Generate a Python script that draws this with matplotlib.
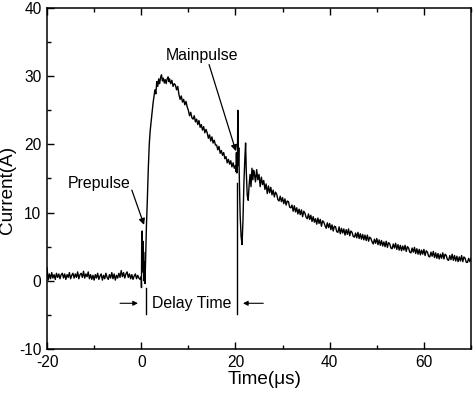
import numpy as np
import matplotlib
matplotlib.use("Agg")
import matplotlib.pyplot as plt
from matplotlib.ticker import MultipleLocator

plt.rcParams['font.family'] = ['Liberation Sans', 'DejaVu Sans']
plt.rcParams['axes.unicode_minus'] = False

# baseline before the prepulse, -20 .. -0.25 us, 0.25 us steps
base_I = [1.9, 0.1, 1.0, 0.3, 1.2, 0.4, 0.9, 0.2, 1.1, 0.5, 1.0, 0.3, 0.9, 1.1, 0.4, 1.0,
          0.2, 0.9, 0.5, 1.2, 0.3, 0.8, 1.1, 0.4, 1.0, 0.5, 1.3, 0.3, 0.9, 1.1, 0.5, 1.4,
          0.4, 1.0, 0.6, 1.3, 0.3, 0.9, 0.2, 0.8, 0.1, 0.9, 0.4, 1.1, 0.2, 0.7, 1.0, 0.1,
          0.8, 0.3, 1.1, 0.5, 0.2, 0.9, 0.4, 1.2, 0.3, 1.0, 0.1, 0.8, 0.4, 1.1, 0.5, 1.5,
          0.6, 1.2, 0.4, 1.0, 1.3, 0.5, 1.0, 0.3, 0.9, 0.2, 0.7, 1.0, 0.3, 0.8, 0.4, 0.2]
base_t = np.arange(len(base_I)) * 0.25 - 20.0

# prepulse and rise to the peak
pre_t = [0.0, 0.05, 0.1, 0.15, 0.2, 0.3, 0.35, 0.45, 0.5, 0.6, 0.7, 0.8, 0.9, 1.0,
         1.1, 1.3, 1.5, 1.7, 1.9, 2.2, 2.5, 2.9, 3.1, 3.3, 3.5, 3.7, 3.9, 4.1, 4.3,
         4.5, 4.7, 4.9, 5.1, 5.3, 5.5, 5.7, 5.9]
pre_I = [0.6, -1.0, 6.5, 2.5, 7.3, 1.8, 5.8, 1.2, 4.2, 0.0, 2.8, -0.4, 2.5, 5.0,
         8.0, 12.0, 16.5, 20.0, 22.0, 24.0, 26.0, 28.0, 27.4, 29.2, 28.5, 29.6, 28.9,
         29.8, 30.2, 29.3, 29.7, 29.0, 29.5, 28.9, 29.6, 29.9, 29.2]

# decay between the pulses, 6 .. 19.75 us
decay_I = [29.6, 28.9, 29.4, 28.5, 28.9, 28.7, 28.0, 28.5,
           27.3, 26.6, 27.1, 26.2, 26.6, 25.8, 26.3, 25.5,
           25.0, 24.2, 24.7, 23.9, 23.7, 24.2, 23.3, 23.7,
           22.9, 23.5, 22.5, 22.9, 22.1, 22.6, 21.7, 22.2,
           21.7, 20.9, 21.4, 20.5, 21.1, 20.2, 20.6, 19.9,
           19.9, 19.2, 19.7, 18.7, 19.1, 18.4, 18.8, 17.9,
           18.2, 17.3, 17.8, 17.1, 17.6, 16.7, 17.3, 16.5]
decay_t = np.arange(len(decay_I)) * 0.25 + 6.0

# mainpulse ringing
main_t = [20.0, 20.1, 20.2, 20.3, 20.4, 20.5, 20.6, 20.7, 20.85, 21.0, 21.2, 21.4, 21.6,
          21.8, 22.0, 22.15, 22.3, 22.5, 22.7, 22.9, 23.1, 23.3, 23.5, 23.7, 23.85]
main_I = [16.9, 16.0, 18.8, 15.8, 16.5, 25.0, 17.0, 19.5, 14.0, 9.5, 6.5, 5.3, 9.0,
          14.5, 18.0, 20.2, 16.0, 12.5, 11.8, 14.0, 15.6, 13.8, 16.5, 14.8, 16.2]

# long tail, 24 .. 70 us
tail_I = [15.8, 14.5, 16.3, 14.8, 15.6, 13.8, 15.2, 14.1,
          14.7, 13.4, 14.2, 12.8, 13.9, 12.9, 13.7, 12.6,
          13.3, 12.3, 13.0, 12.7, 11.9, 11.7, 12.4, 11.6,
          12.2, 11.3, 12.0, 11.1, 11.7, 11.6, 10.8, 10.7,
          11.1, 10.2, 11.0, 10.1, 10.7, 9.8, 10.5, 9.7,
          10.4, 9.4, 10.2, 9.9, 9.3, 9.1, 9.8, 9.0,
          9.6, 8.7, 9.4, 8.6, 9.1, 8.3, 9.2, 8.4,
          9.0, 8.0, 8.8, 8.6, 8.1, 7.7, 8.5, 7.8,
          8.4, 7.5, 8.2, 7.3, 8.0, 7.9, 7.2, 7.1,
          7.9, 6.9, 7.7, 7.0, 7.6, 6.7, 7.5, 6.8,
          7.6, 6.6, 7.3, 7.1, 6.5, 6.4, 7.0, 6.3,
          7.1, 6.2, 6.9, 6.1, 6.8, 6.0, 6.7, 5.9,
          6.7, 5.8, 6.4, 6.2, 5.7, 5.4, 6.1, 5.5,
          6.2, 5.3, 6.0, 5.2, 5.9, 5.1, 5.7, 5.0,
          5.8, 4.9, 5.6, 5.4, 4.8, 4.7, 5.4, 4.8,
          5.5, 4.6, 5.3, 4.5, 5.2, 4.4, 5.1, 4.5,
          5.2, 4.3, 5.0, 4.8, 4.2, 4.1, 4.8, 4.2,
          4.9, 4.0, 4.7, 3.9, 4.6, 3.8, 4.5, 3.9,
          4.6, 3.7, 4.4, 4.2, 3.6, 3.5, 4.2, 3.6,
          4.3, 3.4, 4.1, 3.3, 4.0, 3.2, 3.9, 3.3,
          4.1, 3.2, 3.9, 3.7, 3.1, 3.0, 3.7, 3.1,
          3.9, 3.0, 3.7, 2.9, 3.6, 2.8, 3.5, 2.9,
          3.7, 2.8, 3.5, 3.3, 2.7, 2.7, 3.3, 2.8, 3.3]
tail_t = np.arange(len(tail_I)) * 0.25 + 24.0

t = np.concatenate([base_t, pre_t, decay_t, main_t, tail_t])
current = np.concatenate([base_I, pre_I, decay_I, main_I, tail_I])

fig = plt.figure(figsize=(4.74, 3.95), dpi=100)
ax = fig.add_axes([0.0992, 0.1165, 0.8945, 0.8633])
ax.plot(t, current, color='black', lw=1.0)

# delay time markers
ax.plot([0.95, 0.95], [-1.0, -4.8], color='black', lw=1.0)
ax.plot([20.3, 20.3], [14.4, -4.8], color='black', lw=1.0)
arrow = dict(arrowstyle='-|>', color='black', lw=0.8, mutation_scale=7, shrinkA=0, shrinkB=0)
ax.annotate('', xy=(-0.7, -3.3), xytext=(-4.5, -3.3), arrowprops=arrow)
ax.annotate('', xy=(21.6, -3.3), xytext=(25.9, -3.3), arrowprops=arrow)
ax.text(10.7, -3.3, 'Delay Time', ha='center', va='center', fontsize=11.4)

arrow2 = dict(arrowstyle='-|>', color='black', lw=0.9, mutation_scale=9, shrinkA=0, shrinkB=0)
ax.annotate('', xy=(0.6, 8.2), xytext=(-2.0, 13.3), arrowprops=arrow2)
ax.text(-9.0, 14.3, 'Prepulse', ha='center', va='center', fontsize=11.4)
ax.annotate('', xy=(20.1, 19.0), xytext=(14.4, 31.7), arrowprops=arrow2)
ax.text(12.8, 33.1, 'Mainpulse', ha='center', va='center', fontsize=11.4)

ax.set_xlim(-20, 70)
ax.set_ylim(-10, 40)
ax.xaxis.set_major_locator(MultipleLocator(20))
ax.xaxis.set_minor_locator(MultipleLocator(10))
ax.yaxis.set_major_locator(MultipleLocator(10))
ax.yaxis.set_minor_locator(MultipleLocator(5))
ax.tick_params(which='both', direction='in', top=True, right=False, width=1.0, labelsize=11.2, pad=4)
ax.tick_params(which='major', length=5)
ax.tick_params(which='minor', length=3)
for s in ax.spines.values():
    s.set_linewidth(1.1)

ax.set_xlabel('Time(μs)', fontsize=13.6)
ax.set_ylabel('Current(A)', fontsize=13.6)
ax.xaxis.set_label_coords(0.514, -0.066, transform=ax.transAxes)
ax.yaxis.set_label_coords(-0.072, 0.466, transform=ax.transAxes)

fig.savefig('out.png', dpi=100)
